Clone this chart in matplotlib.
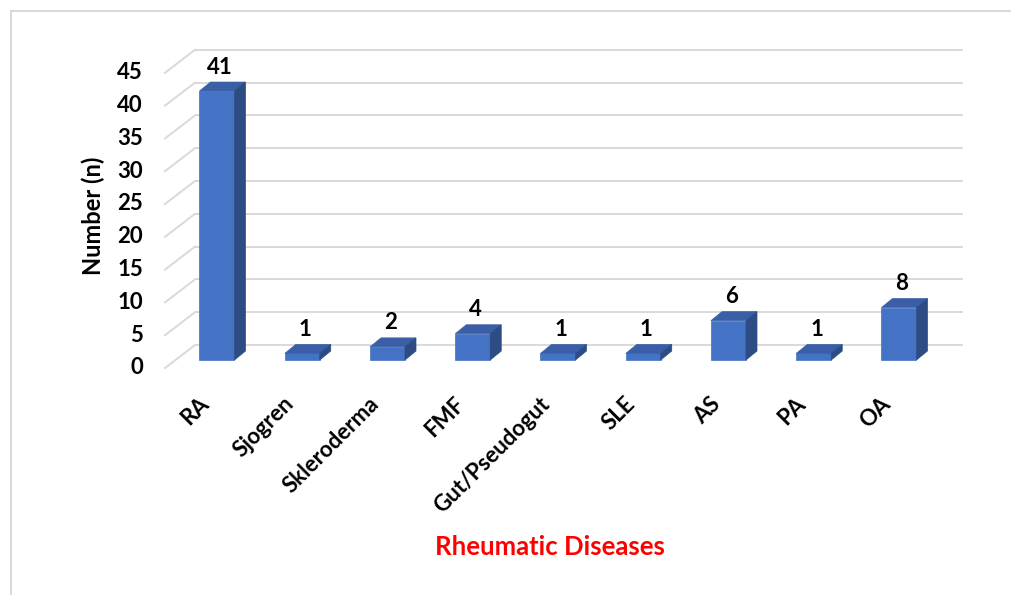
import matplotlib
matplotlib.use("Agg")
import matplotlib.pyplot as plt
from matplotlib.patches import Polygon
from matplotlib.lines import Line2D

# Patients per rheumatic disease
categories = ["RA", "Sjogren", "Skleroderma", "FMF", "Gut/Pseudogut",
              "SLE", "AS", "PA", "OA"]
counts = [41, 1, 2, 4, 1, 1, 6, 1, 8]
y_ticks = [0, 5, 10, 15, 20, 25, 30, 35, 40, 45]

plt.rcParams["font.family"] = ["Lato", "DejaVu Sans"]
plt.rcParams["font.weight"] = "bold"

W, H = 1012, 595
fig = plt.figure(figsize=(W / 100, H / 100), dpi=100)
ax = fig.add_axes([0, 0, 1, 1])
ax.set_axis_off()

# Pixel layout of the pseudo-3D plot (measured from the top-left corner)
X0_PX, STEP_PX = 217, 85.25     # first category centre, spacing between categories
BASE_PX, UNIT_PX = 360, 6.56    # bar floor line, pixels per count
ax.set_xlim(-X0_PX / STEP_PX, (W - X0_PX) / STEP_PX)
ax.set_ylim((BASE_PX - H) / UNIT_PX, BASE_PX / UNIT_PX)


def dxu(px):
    return px / STEP_PX


def dyu(px):
    return px / UNIT_PX


FRONT = "#4472C4"
TOP = "#3A5FA6"
SIDE = "#2D4C84"
GRID = "#D9D9D9"

# Back wall gridlines and the slanted side-wall lines to the tick positions
wall_left, wall_right = dxu(195 - X0_PX), dxu(963 - X0_PX)
front_left = dxu(165 - X0_PX)
back_up, front_down = dyu(15), dyu(8)
for v in y_ticks:
    ax.add_line(Line2D([wall_left, wall_right], [v + back_up, v + back_up],
                       color=GRID, lw=1.4, zorder=1, solid_capstyle="butt"))
    ax.add_line(Line2D([front_left, wall_left], [v - front_down, v + back_up],
                       color=GRID, lw=1.4, zorder=1))
    ax.text(dxu(143 - X0_PX), v - front_down, str(v), ha="right", va="center",
            fontsize=16, fontweight="bold", color="black")

# 3D bars: front face, top face and right side face
half_w = dxu(17.5)
depth_x, depth_y = dxu(11), dyu(9)
for i, (name, v) in enumerate(zip(categories, counts)):
    xl, xr = i - half_w, i + half_w
    ax.add_patch(Polygon([(xl, 0), (xr, 0), (xr, v), (xl, v)], closed=True,
                         facecolor=FRONT, edgecolor=FRONT, lw=0.5, zorder=3))
    ax.add_patch(Polygon([(xl, v), (xr, v), (xr + depth_x, v + depth_y),
                          (xl + depth_x, v + depth_y)], closed=True,
                         facecolor=TOP, edgecolor=TOP, lw=0.5, zorder=3))
    ax.add_patch(Polygon([(xr, 0), (xr + depth_x, depth_y),
                          (xr + depth_x, v + depth_y), (xr, v)], closed=True,
                         facecolor=SIDE, edgecolor=SIDE, lw=0.5, zorder=3))
    ax.text(i + dxu(3), v + dyu(24), str(v), ha="center", va="center",
            fontsize=16, fontweight="bold", color="black", zorder=4)
    ax.text(i + dxu(-4), -dyu(33), name, rotation=45, ha="right", va="top",
            fontsize=16, fontweight="bold", color="black")

# Axis titles
fig.text(93 / W, 1 - 216 / H, "Number (n)", rotation=90, ha="center",
         va="center", fontsize=17, fontweight="bold", color="black")
fig.text(550 / W, 1 - 547 / H, "Rheumatic Diseases", ha="center",
         va="center", fontsize=18.5, fontweight="bold", color="#FF0000")

# Chart-area frame (top and left edges)
fig.add_artist(Line2D([11 / W, 1], [1 - 11 / H, 1 - 11 / H],
                      transform=fig.transFigure, color=GRID, lw=1.5))
fig.add_artist(Line2D([11 / W, 11 / W], [0, 1 - 11 / H],
                      transform=fig.transFigure, color=GRID, lw=1.5))

fig.savefig("out.png", dpi=100, facecolor="white")
